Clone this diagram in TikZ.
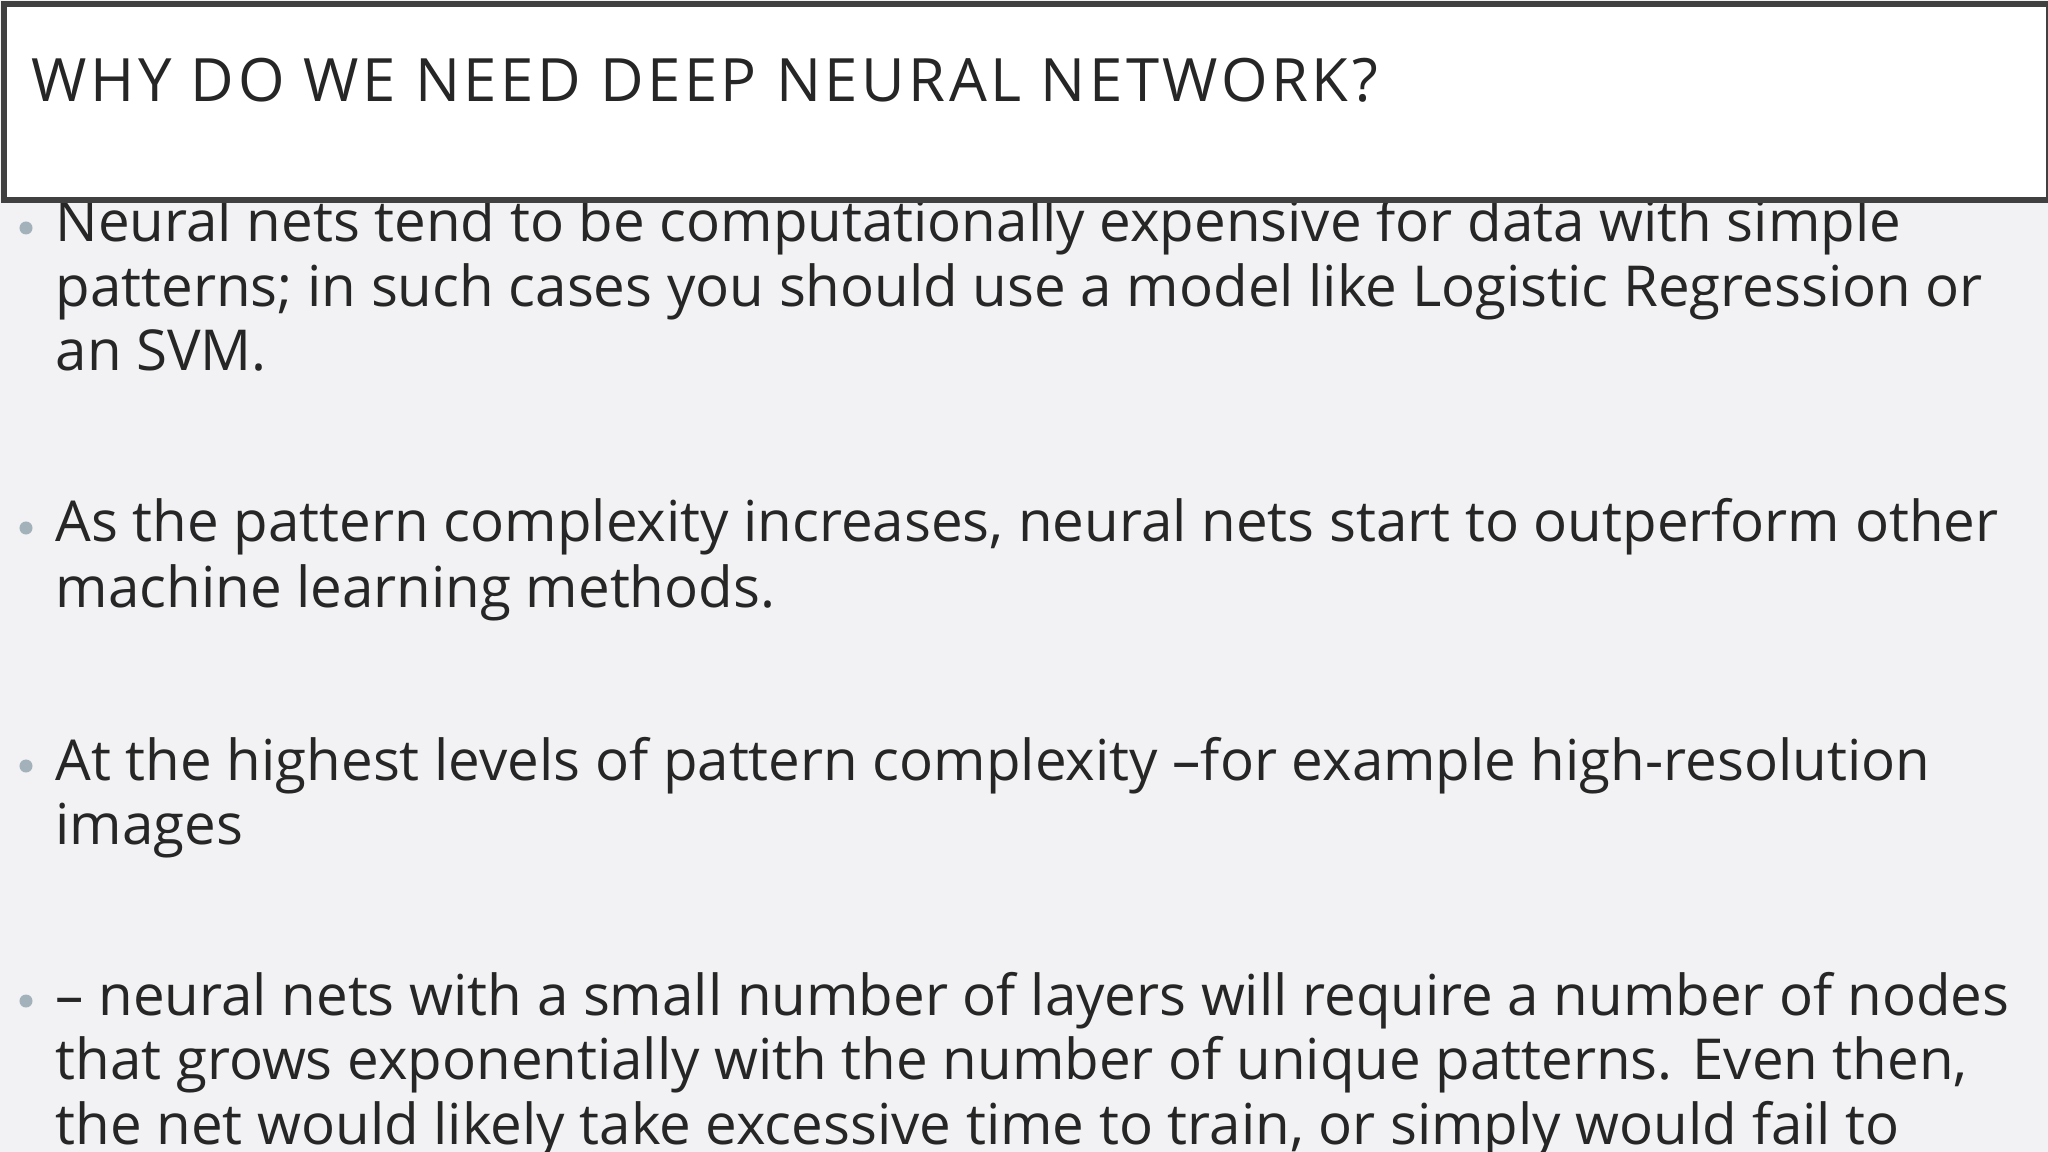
\documentclass[tikz,border=0pt]{standalone}
\usepackage{fontspec}
\setmainfont{Open Sans}
\definecolor{bg}{HTML}{F2F2F4}
\definecolor{txt}{HTML}{262626}
\definecolor{bul}{HTML}{A3B1BA}
\begin{document}
\begin{tikzpicture}[x=0.01cm,y=-0.01cm,
  ln/.style={anchor=base west,inner sep=0,text=txt,font=\fontsize{16.05pt}{18pt}\selectfont},
  bl/.style={circle,fill=bul,inner sep=0,minimum size=0.13cm}]
\clip (0,0) rectangle (2048,1152);
\fill[bg] (0,0) rectangle (2048,1152);
\foreach \y/\t [count=\i] in {242/{Neural nets tend to be computationally expensive for data with simple},
 307/{patterns; in such cases you should use a model like Logistic Regression or},
 371/{an SVM.},
 542/{As the pattern complexity increases, neural nets start to outperform other},
 607/{machine learning methods.},
 780/{At the highest levels of pattern complexity –for example high-resolution},
 844/{images},
 1015/{– neural nets with a small number of layers will require a number of nodes},
 1079/{that grows exponentially with the number of unique patterns. Even then,},
 1144/{the net would likely take excessive time to train, or simply would fail to}}
 \node[ln] (l\i) at (55,\y) {\t};
\foreach \y [count=\i] in {228,528,766,1001} \node[bl] (b\i) at (26,\y) {};
\node[draw=black!75,line width=1.6pt,fill=white,minimum width=20.44cm,minimum height=1.96cm,anchor=north west] (tb) at (1,1) {};
\node[anchor=base west,inner sep=0,text=txt,font=\fontsize{17pt}{20pt}\selectfont\addfontfeature{LetterSpace=6}] (t) at (31,102) {WHY DO WE NEED DEEP NEURAL NETWORK?};
\end{tikzpicture}
\end{document}
